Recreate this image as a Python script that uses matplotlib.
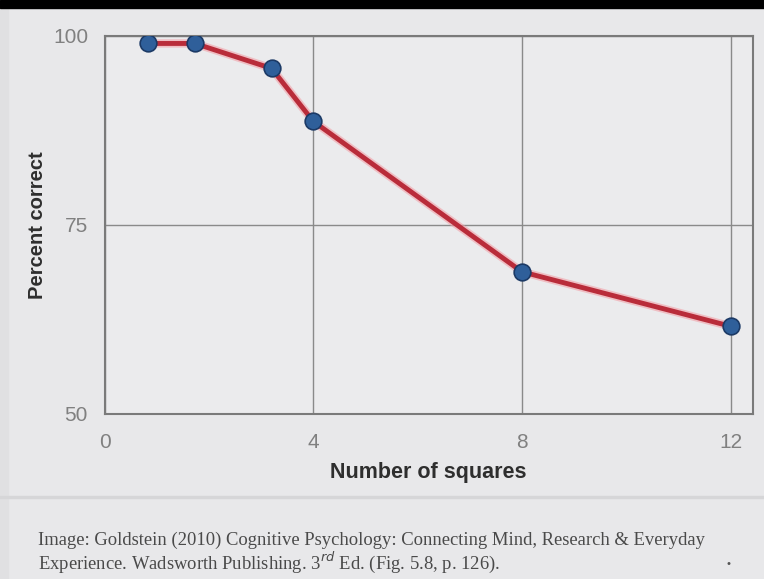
import matplotlib
matplotlib.use('Agg')
import matplotlib.pyplot as plt
from matplotlib.patches import Rectangle

# values
squares = [0.83, 1.73, 3.2, 4.0, 8.0, 12.0]
pct_correct = [99.0, 99.0, 95.7, 88.7, 68.8, 61.6]
xticks = [0, 4, 8, 12]
yticks = [50, 75, 100]

plt.rcParams['font.family'] = ['Liberation Sans', 'DejaVu Sans']

fig = plt.figure(figsize=(7.64, 5.79), dpi=100, facecolor='#e8e8ea')
ax = fig.add_axes([0.137, 0.285, 0.848, 0.653])
ax.set_facecolor('#ebebed')

# black strip at the top of the screenshot, thin shade at the left and above the caption
fig.patches.append(Rectangle((0, 0.986), 1, 0.014, transform=fig.transFigure,
                             color='black', zorder=10))
fig.patches.append(Rectangle((0, 0), 0.01, 0.986, transform=fig.transFigure,
                             color='#e0e0e2', zorder=0))
fig.patches.append(Rectangle((0, 0.140), 1, 0.003, transform=fig.transFigure,
                             color='#d6d6d8', zorder=0))

ax.plot(squares, pct_correct, color='#f2a0a8', lw=6, alpha=0.6, zorder=3)
ax.plot(squares, pct_correct, color='#b92c3a', lw=3.5, zorder=3)
ax.plot(squares, pct_correct, ls='none', marker='o', ms=12,
        mfc='#2f5f9a', mec='#1c3a66', mew=1.2, zorder=4)

ax.set_xlim(0, 12.42)
ax.set_ylim(50, 100)
ax.set_xticks(xticks)
ax.set_yticks(yticks)
ax.grid(True, color='#8a8a8a', lw=1.0)
ax.set_axisbelow(True)
for s in ax.spines.values():
    s.set_color('#7a7a7a')
    s.set_linewidth(1.5)
ax.tick_params(length=0, labelsize=15, colors='#808080')
ax.tick_params(axis='x', pad=14)
ax.tick_params(axis='y', pad=12)

ax.set_xlabel('Number of squares', fontsize=15.5, fontweight='bold', color='#2e2e2e', labelpad=7)
ax.set_ylabel('Percent correct', fontsize=14.5, fontweight='bold', color='#2e2e2e', labelpad=4)

fig.text(0.05, 0.067, 'Image: Goldstein (2010) Cognitive Psychology: Connecting Mind, Research & Everyday',
         fontsize=13.4, family='Liberation Serif', color='#4a4a4a', va='center')
fig.text(0.05, 0.028, 'Experience. Wadsworth Publishing. 3$^{rd}$ Ed. (Fig. 5.8, p. 126).',
         fontsize=13.4, family='Liberation Serif', color='#4a4a4a', va='center')
fig.text(0.951, 0.026, '\u2022', fontsize=8, color='#555555', va='center')

fig.savefig('out.png', dpi=100, facecolor=fig.get_facecolor())
